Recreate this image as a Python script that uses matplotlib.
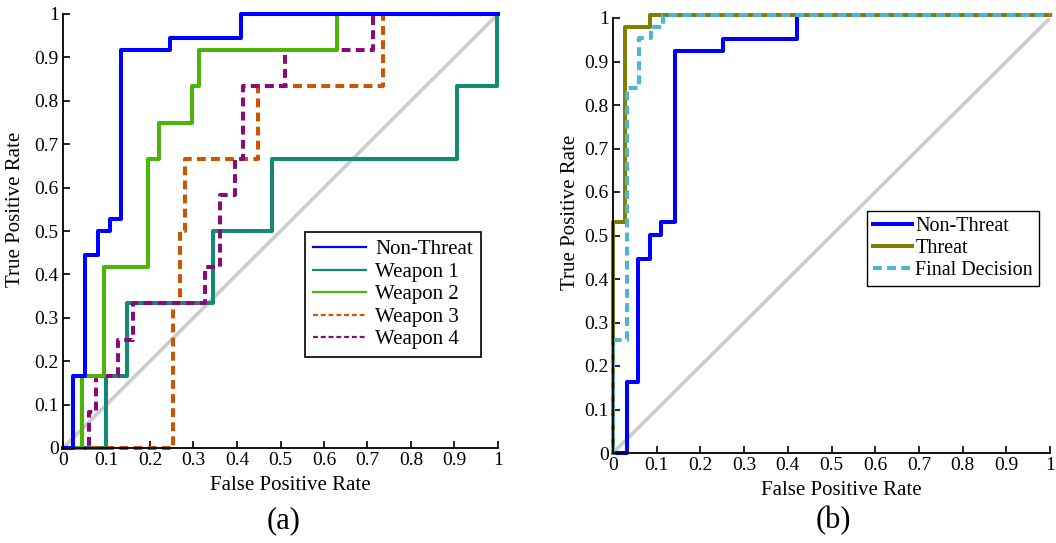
import numpy as np
import matplotlib
matplotlib.use('Agg')
import matplotlib.pyplot as plt

plt.rcParams['font.family'] = ['Liberation Serif', 'DejaVu Serif']

# (a) per-class ROC curves, step vertices (FPR, TPR)
nonthreat_a_fpr = [0, 0.022, 0.022, 0.05, 0.05, 0.08, 0.08, 0.108, 0.108, 0.133, 0.133, 0.246, 0.246, 0.41, 0.41, 1]
nonthreat_a_tpr = [0, 0, 0.1667, 0.1667, 0.4444, 0.4444, 0.5, 0.5, 0.5278, 0.5278, 0.9167, 0.9167, 0.9444, 0.9444, 1, 1]

weapon1_fpr = [0, 0.099, 0.099, 0.146, 0.146, 0.344, 0.344, 0.48, 0.48, 0.905, 0.905, 0.997, 0.997]
weapon1_tpr = [0, 0, 0.1667, 0.1667, 0.3333, 0.3333, 0.5, 0.5, 0.6667, 0.6667, 0.8333, 0.8333, 1]

weapon2_fpr = [0, 0.043, 0.043, 0.094, 0.094, 0.196, 0.196, 0.22, 0.22, 0.296, 0.296, 0.313, 0.313, 0.629, 0.629, 1]
weapon2_tpr = [0, 0, 0.1667, 0.1667, 0.4167, 0.4167, 0.6667, 0.6667, 0.75, 0.75, 0.8333, 0.8333, 0.9167, 0.9167, 1, 1]

weapon3_fpr = [0, 0.252, 0.252, 0.269, 0.269, 0.28, 0.28, 0.449, 0.449, 0.736, 0.736, 1]
weapon3_tpr = [0, 0, 0.3333, 0.3333, 0.5, 0.5, 0.6667, 0.6667, 0.8333, 0.8333, 1, 1]

weapon4_fpr = [0, 0.06, 0.06, 0.077, 0.077, 0.127, 0.127, 0.162, 0.162, 0.326, 0.326, 0.361, 0.361,
               0.395, 0.395, 0.413, 0.413, 0.51, 0.51, 0.712, 0.712, 1]
weapon4_tpr = [0, 0, 0.0833, 0.0833, 0.1667, 0.1667, 0.25, 0.25, 0.3333, 0.3333, 0.4167, 0.4167, 0.5833,
               0.5833, 0.6667, 0.6667, 0.8333, 0.8333, 0.9167, 0.9167, 1, 1]

# (b) fused ROC curves
nonthreat_b_fpr = [0, 0.031, 0.031, 0.057, 0.057, 0.085, 0.085, 0.11, 0.11, 0.141, 0.141, 0.252, 0.252, 0.421, 0.421, 1]
nonthreat_b_tpr = [0, 0, 0.164, 0.164, 0.446, 0.446, 0.501, 0.501, 0.532, 0.532, 0.925, 0.925, 0.951, 0.951, 1.008, 1.008]

threat_fpr = [0, 0, 0.028, 0.028, 0.085, 0.085, 1]
threat_tpr = [0, 0.532, 0.532, 0.98, 0.98, 1.008, 1.008]

final_fpr = [0, 0, 0.031, 0.031, 0.059, 0.059, 0.088, 0.088, 0.115, 0.115, 1]
final_tpr = [0, 0.26, 0.26, 0.839, 0.839, 0.953, 0.953, 0.98, 0.98, 1.008, 1.008]

ticks = [0, 0.1, 0.2, 0.3, 0.4, 0.5, 0.6, 0.7, 0.8, 0.9, 1]
tick_labels = ['0', '0.1', '0.2', '0.3', '0.4', '0.5', '0.6', '0.7', '0.8', '0.9', '1']

fig = plt.figure(figsize=(10.56, 5.43), dpi=100)
ax1 = fig.add_axes([63/1056, 1-448/543, 435/1056, 434/543])
ax2 = fig.add_axes([613/1056, 1-453/543, 437/1056, 435/543])

LW = 2.9
DASH = (0, (2.2, 1.3))


def style_axes(ax, ylab_x, ylab_y):
    ax.set_xlim(0, 1)
    ax.set_ylim(0, 1)
    for side in ['top', 'right']:
        ax.spines[side].set_visible(False)
    for side in ['left', 'bottom']:
        ax.spines[side].set_linewidth(1.3)
    ax.set_xticks(ticks)
    ax.set_xticklabels(tick_labels)
    ax.set_yticks(ticks)
    ax.set_yticklabels(tick_labels)
    ax.tick_params(direction='in', length=5, width=1.2, labelsize=14, pad=3)
    ax.set_xlabel('False Positive Rate', fontsize=15)
    ax.set_ylabel('True Positive Rate', fontsize=15)
    ax.xaxis.set_label_coords(0.522, -0.064)
    ax.yaxis.set_label_coords(ylab_x, ylab_y)
    ax.patch.set_visible(False)


# panel (a)
ax1.plot([0, 1], [0, 1], color='#cccccc', linewidth=2.6, zorder=1)
ax1.plot(weapon1_fpr, weapon1_tpr, color='#138a72', linewidth=LW, label='Weapon 1', clip_on=False)
ax1.plot(weapon3_fpr, weapon3_tpr, color='#cc5500', linewidth=LW, linestyle=DASH, label='Weapon 3', clip_on=False)
ax1.plot(weapon4_fpr, weapon4_tpr, color='#8b0a7a', linewidth=LW, linestyle=DASH, label='Weapon 4', clip_on=False)
ax1.plot(weapon2_fpr, weapon2_tpr, color='#4cb50a', linewidth=LW, label='Weapon 2', clip_on=False)
ax1.plot(nonthreat_a_fpr, nonthreat_a_tpr, color='#0000ff', linewidth=LW, label='Non-Threat', clip_on=False)
style_axes(ax1, -0.088, 0.55)

handles, labels = ax1.get_legend_handles_labels()
order = ['Non-Threat', 'Weapon 1', 'Weapon 2', 'Weapon 3', 'Weapon 4']
hmap = dict(zip(labels, handles))
leg1 = ax1.legend([hmap[k] for k in order], order, loc='upper left', bbox_to_anchor=(0.556, 0.498),
                  fontsize=15, frameon=True, fancybox=False, edgecolor='black', framealpha=1,
                  handlelength=2.55, handletextpad=0.45, labelspacing=0.14, borderpad=0.38, borderaxespad=0)
leg1.get_frame().set_linewidth(1.2)
for line in leg1.get_lines():
    line.set_linewidth(1.6)

# panel (b)
ax2.plot([0, 1], [0, 1], color='#cccccc', linewidth=2.6, zorder=1)
ax2.plot(nonthreat_b_fpr, nonthreat_b_tpr, color='#0000ff', linewidth=LW, label='Non-Threat', clip_on=False)
ax2.plot(threat_fpr, threat_tpr, color='#808000', linewidth=LW, label='Threat', clip_on=False)
ax2.plot(final_fpr, final_tpr, color='#4bb5d2', linewidth=LW, linestyle=DASH, label='Final Decision', clip_on=False)
style_axes(ax2, -0.075, 0.554)
leg2 = ax2.legend(loc='upper left', bbox_to_anchor=(0.581, 0.556), fontsize=14.5, frameon=True,
                  fancybox=False, edgecolor='black', framealpha=1, handlelength=1.95,
                  handletextpad=0.15, labelspacing=0.14, borderpad=0.3, borderaxespad=0)
leg2.get_frame().set_linewidth(1.0)

fig.text(284/1056, 1-521/543, '(a)', fontsize=22, ha='center', va='center')
fig.text(833/1056, 1-521/543, '(b)', fontsize=22, ha='center', va='center')

fig.savefig('out.png', dpi=100)
